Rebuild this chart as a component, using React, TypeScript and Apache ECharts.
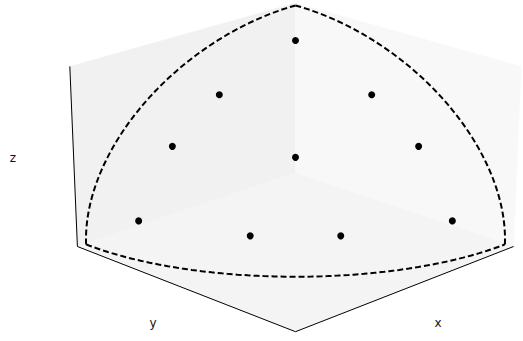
import React, { useEffect, useRef } from "react";
import * as echarts from "echarts";

const W = 523;
const H = 341;

// Points on the unit sphere octant: polar angle from +z, azimuth from +x (degrees)
const polarDeg = [18.3, 39, 39, 55.6, 55.65, 55.6, 77.9, 77.9, 77.9, 77.9];
const azimuthDeg = [45, 21.2, 68.8, 15.4, 45, 74.6, 12.9, 36.3, 53.7, 77.1];
const sphereRadius = 1;
const axisTitles = ["x", "y", "z"];

// 3D view set-up
const elevDeg = 23.5;
const azimDeg = 45;
const camDist = 10;
const boxAspect = [4, 4, 3];
const xLim = [-0.021, 1.021];
const yLim = [-0.021, 1.021];
const zLim = [-0.012, 1.0];
const scaleX = 274.5;
const scaleY = 229;
const centerX = 295.5;
const centerY = 158;

type V3 = [number, number, number];

const aspectN = (() => {
  const n = Math.hypot(boxAspect[0], boxAspect[1], boxAspect[2]);
  return boxAspect.map((a) => (a * 1.8294640721620434) / n);
})();

const dot = (a: number[], b: number[]) => a[0] * b[0] + a[1] * b[1] + a[2] * b[2];

function project(p: V3): [number, number] {
  const lims = [xLim, yLim, zLim];
  const w3 = p.map((c, i) => ((c - lims[i][0]) / (lims[i][1] - lims[i][0]) - 0.5) * aspectN[i]);
  const e = (elevDeg * Math.PI) / 180;
  const a = (azimDeg * Math.PI) / 180;
  const wv = [Math.cos(e) * Math.cos(a), Math.cos(e) * Math.sin(a), Math.sin(e)];
  const uv = [-Math.sin(a), Math.cos(a), 0];
  const vv = [-Math.sin(e) * Math.cos(a), -Math.sin(e) * Math.sin(a), Math.cos(e)];
  const f = camDist / (camDist - dot(w3, wv));
  return [centerX + scaleX * dot(w3, uv) * f, centerY - scaleY * dot(w3, vv) * f];
}

const toXYZ = (polar: number, az: number): V3 => {
  const t = (polar * Math.PI) / 180;
  const p = (az * Math.PI) / 180;
  return [
    sphereRadius * Math.sin(t) * Math.cos(p),
    sphereRadius * Math.sin(t) * Math.sin(p),
    sphereRadius * Math.cos(t),
  ];
};

// quarter great circle between two unit axes
function quarterArc(i: number, j: number): [number, number][] {
  const out: [number, number][] = [];
  const n = 90;
  for (let k = 0; k <= n; k++) {
    const t = ((k / n) * Math.PI) / 2;
    const p: V3 = [0, 0, 0];
    p[i] = sphereRadius * Math.cos(t);
    p[j] = sphereRadius * Math.sin(t);
    out.push(project(p));
  }
  return out;
}

const [x0, x1] = xLim;
const [y0, y1] = yLim;
const [z0, z1] = zLim;

const panes: { corners: V3[]; color: string }[] = [
  { corners: [[x0, y0, z0], [x1, y0, z0], [x1, y0, z1], [x0, y0, z1]], color: "#f1f1f1" },
  { corners: [[x0, y0, z0], [x0, y1, z0], [x0, y1, z1], [x0, y0, z1]], color: "#f8f8f8" },
  { corners: [[x0, y0, z0], [x1, y0, z0], [x1, y1, z0], [x0, y1, z0]], color: "#f4f4f4" },
];

const axisEdge: V3[] = [
  [x1, y0, z1],
  [x1, y0, z0],
  [x1, y1, z0],
  [x0, y1, z0],
];

export default function App() {
  const ref = useRef<HTMLDivElement>(null);
  useEffect(() => {
    if (!ref.current) return;
    const chart = echarts.init(ref.current, undefined, { renderer: "svg" });
    const pts = polarDeg.map((t, i) => project(toXYZ(t, azimuthDeg[i])));
    const arcs = [quarterArc(0, 2), quarterArc(1, 2), quarterArc(0, 1)];
    chart.setOption({
      animation: false,
      grid: { left: 0, top: 0, width: W, height: H },
      xAxis: { type: "value", min: 0, max: W, show: false },
      yAxis: { type: "value", min: 0, max: H, inverse: true, show: false },
      series: [
        {
          type: "custom",
          silent: true,
          data: panes.map((_, i) => [i, 0]),
          renderItem: (params: any, api: any) => {
            const pane = panes[params.dataIndex];
            return {
              type: "polygon",
              shape: { points: pane.corners.map((c) => api.coord(project(c))) },
              style: { fill: pane.color, stroke: pane.color, lineWidth: 0.5 },
            };
          },
        },
        ...arcs.map((arc) => ({
          type: "line",
          data: arc,
          showSymbol: false,
          symbol: "none",
          silent: true,
          lineStyle: { color: "#000", width: 2, type: [6, 3] },
        })),
        {
          type: "line",
          data: axisEdge.map(project),
          showSymbol: false,
          symbol: "none",
          silent: true,
          lineStyle: { color: "#000", width: 1 },
        },
        {
          type: "scatter",
          data: pts,
          symbolSize: 7,
          itemStyle: { color: "#000", opacity: 1 },
        },
      ],
      graphic: [
        { type: "text", x: 13, y: 158, style: { text: axisTitles[2], font: "12px 'DejaVu Sans'", fill: "#111", textAlign: "center", textVerticalAlign: "middle" } },
        { type: "text", x: 153, y: 323, style: { text: axisTitles[1], font: "12px 'DejaVu Sans'", fill: "#111", textAlign: "center", textVerticalAlign: "middle" } },
        { type: "text", x: 438, y: 323, style: { text: axisTitles[0], font: "12px 'DejaVu Sans'", fill: "#111", textAlign: "center", textVerticalAlign: "middle" } },
      ],
    });
    return () => chart.dispose();
  }, []);
  return (
    <div
      ref={ref}
      style={{ position: "fixed", left: 0, top: 0, width: W, height: H, background: "#fff" }}
    />
  );
}
